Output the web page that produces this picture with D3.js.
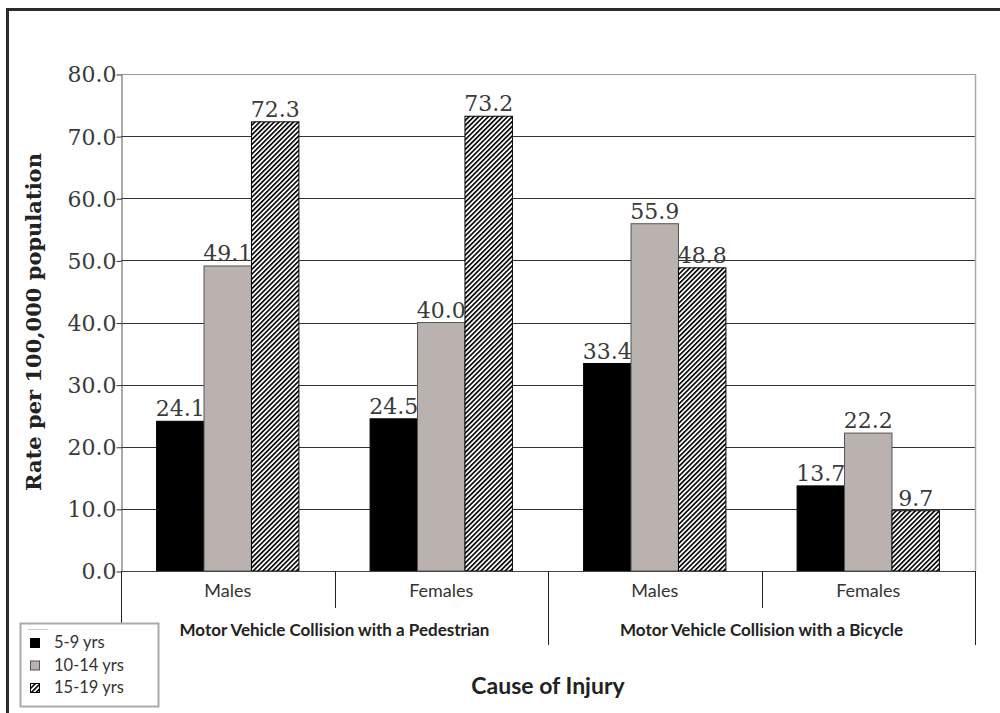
<!DOCTYPE html>
<html><head><meta charset="utf-8">
<script src="https://cdn.jsdelivr.net/npm/d3@7"></script>
<style>body{margin:0;background:#fff}svg{display:block}</style>
</head><body>
<script>
const groups = ["Motor Vehicle Collision with a Pedestrian", "Motor Vehicle Collision with a Bicycle"];
const sexes = ["Males", "Females"];
const ageGroups = ["5-9 yrs", "10-14 yrs", "15-19 yrs"];
const valsPedMales = [24.1, 49.1, 72.3];
const valsPedFemales = [24.5, 40.0, 73.2];
const valsBikeMales = [33.4, 55.9, 48.8];
const valsBikeFemales = [13.7, 22.2, 9.7];
const yTicks = [0, 10, 20, 30, 40, 50, 60, 70, 80];
const yTitle = "Rate per 100,000 population";
const xTitle = "Cause of Injury";

const cats = [
  {g: 0, s: sexes[0], v: valsPedMales},
  {g: 0, s: sexes[1], v: valsPedFemales},
  {g: 1, s: sexes[0], v: valsBikeMales},
  {g: 1, s: sexes[1], v: valsBikeFemales}
];

const W = 1000, H = 713;
const svg = d3.select("body").append("svg").attr("width", W).attr("height", H);
const defs = svg.append("defs");
const pat = defs.append("pattern").attr("id", "hatch").attr("patternUnits", "userSpaceOnUse")
  .attr("width", 3.4).attr("height", 3.4).attr("patternTransform", "rotate(45)");
pat.append("rect").attr("width", 3.4).attr("height", 3.4).attr("fill", "#fff");
pat.append("rect").attr("x", 0).attr("y", 0).attr("width", 1.6).attr("height", 3.4).attr("fill", "#000");

// frame
svg.append("rect").attr("x", 7.5).attr("y", 9.5).attr("width", 1100).attr("height", 800)
  .attr("fill", "none").attr("stroke", "#2b2b2b").attr("stroke-width", 3);

const pLeft = 121, pRight = 975, pTop = 74, pBottom = 571;
const y = d3.scaleLinear().domain([0, 80]).range([pBottom, pTop]);
const x0 = d3.scaleBand().domain(d3.range(cats.length)).range([pLeft, pRight]).paddingInner(0).paddingOuter(0);
const x1 = d3.scaleBand().domain(ageGroups).range([0, x0.bandwidth()]).paddingInner(0).paddingOuter(0.75);
const fills = ["#000000", "#bab2af", "url(#hatch)"];
const strokes = ["#000", "#555", "#000"];

const numFont = "'DejaVu Serif', serif";
const sansFont = "Lato, 'Open Sans', sans-serif";

// gridlines
svg.append("g").selectAll("line").data(yTicks.filter(d => d > 0)).join("line")
  .attr("x1", pLeft).attr("x2", pRight)
  .attr("y1", d => Math.round(y(d)) + 0.5).attr("y2", d => Math.round(y(d)) + 0.5)
  .attr("stroke", d => d === 80 ? "#999" : "#333").attr("stroke-width", 1);
// right border
svg.append("line").attr("x1", pRight + 0.5).attr("x2", pRight + 0.5).attr("y1", pTop).attr("y2", pBottom)
  .attr("stroke", "#aaa").attr("stroke-width", 1.5);

// y axis
const yAxis = d3.axisLeft(y).tickValues(yTicks).tickFormat(d3.format(".1f")).tickSize(5).tickSizeOuter(0);
const ya = svg.append("g").attr("transform", `translate(${pLeft + 0.5},0.5)`).call(yAxis);
ya.select(".domain").attr("stroke", "#555");
ya.selectAll(".tick line").attr("stroke", "#333");
ya.selectAll("text").attr("font-family", numFont).attr("font-size", 22).attr("fill", "#3a3a3a")
  .attr("x", -5).attr("dy", "0.34em");

// bars
const cg = svg.append("g").selectAll("g").data(cats).join("g")
  .attr("transform", (d, i) => `translate(${x0(i)},0)`);
cg.selectAll("rect").data(d => d.v.map((v, j) => ({v, j}))).join("rect")
  .attr("x", d => x1(ageGroups[d.j]))
  .attr("width", x1.bandwidth())
  .attr("y", d => y(d.v))
  .attr("height", d => y(0) - y(d.v))
  .attr("fill", d => fills[d.j])
  .attr("stroke", d => strokes[d.j]).attr("stroke-width", 1);
cg.selectAll("text").data(d => d.v.map((v, j) => ({v, j}))).join("text")
  .attr("x", d => x1(ageGroups[d.j]) + x1.bandwidth() / 2)
  .attr("y", d => y(d.v) - 5)
  .attr("text-anchor", "middle")
  .attr("font-family", numFont).attr("font-size", 22).attr("fill", "#3a3a3a")
  .text(d => d3.format(".1f")(d.v));

// x axis
svg.append("line").attr("x1", pLeft).attr("x2", pRight).attr("y1", pBottom + 0.5).attr("y2", pBottom + 0.5)
  .attr("stroke", "#444").attr("stroke-width", 1);
// dividers
const divs = d3.range(cats.length + 1).map(i => i < cats.length ? x0(i) : pRight);
svg.append("g").selectAll("line").data(divs).join("line")
  .attr("x1", d => Math.round(d) + 0.5).attr("x2", d => Math.round(d) + 0.5)
  .attr("y1", pBottom).attr("y2", (d, i) => i % 2 === 0 ? 645 : 608)
  .attr("stroke", "#222").attr("stroke-width", 1);
// sex labels
svg.append("g").selectAll("text").data(cats).join("text")
  .attr("x", (d, i) => x0(i) + x0.bandwidth() / 2).attr("y", 597)
  .attr("text-anchor", "middle").attr("font-family", sansFont).attr("font-size", 18).attr("fill", "#333")
  .text(d => d.s);
// group labels
svg.append("g").selectAll("text").data(groups).join("text")
  .attr("x", (d, i) => x0(i * 2) + x0.bandwidth()).attr("y", 636)
  .attr("text-anchor", "middle").attr("font-family", sansFont).attr("font-size", 17).attr("font-weight", "bold").attr("fill", "#222")
  .text(d => d);

// axis titles
svg.append("text").attr("transform", "translate(41,322) rotate(-90)")
  .attr("text-anchor", "middle").attr("font-family", "'DejaVu Serif', serif").attr("font-weight", "bold")
  .attr("font-size", 21).attr("fill", "#222").text(yTitle);
svg.append("text").attr("x", (pLeft + pRight) / 2).attr("y", 694).attr("text-anchor", "middle")
  .attr("font-family", sansFont).attr("font-weight", "bold").attr("font-size", 23).attr("fill", "#222").text(xTitle);

// legend
const lg = svg.append("g");
lg.append("rect").attr("x", 20.5).attr("y", 623.5).attr("width", 138).attr("height", 83)
  .attr("fill", "#fff").attr("stroke", "#aaa").attr("stroke-width", 2);
lg.append("line").attr("x1", 28).attr("x2", 48).attr("y1", 629.5).attr("y2", 629.5).attr("stroke", "#ccc");
const li = lg.selectAll("g.it").data(ageGroups).join("g").attr("class", "it")
  .attr("transform", (d, i) => `translate(30,${638 + i * 22.5})`);
li.append("rect").attr("x", 0.5).attr("y", 0.5).attr("width", 9).attr("height", 9)
  .attr("fill", (d, i) => fills[i]).attr("stroke", (d, i) => strokes[i]);
li.append("text").attr("x", 24).attr("y", 10).attr("font-family", sansFont).attr("font-size", 16.5).attr("fill", "#333").text(d => d);
</script>
</body></html>
